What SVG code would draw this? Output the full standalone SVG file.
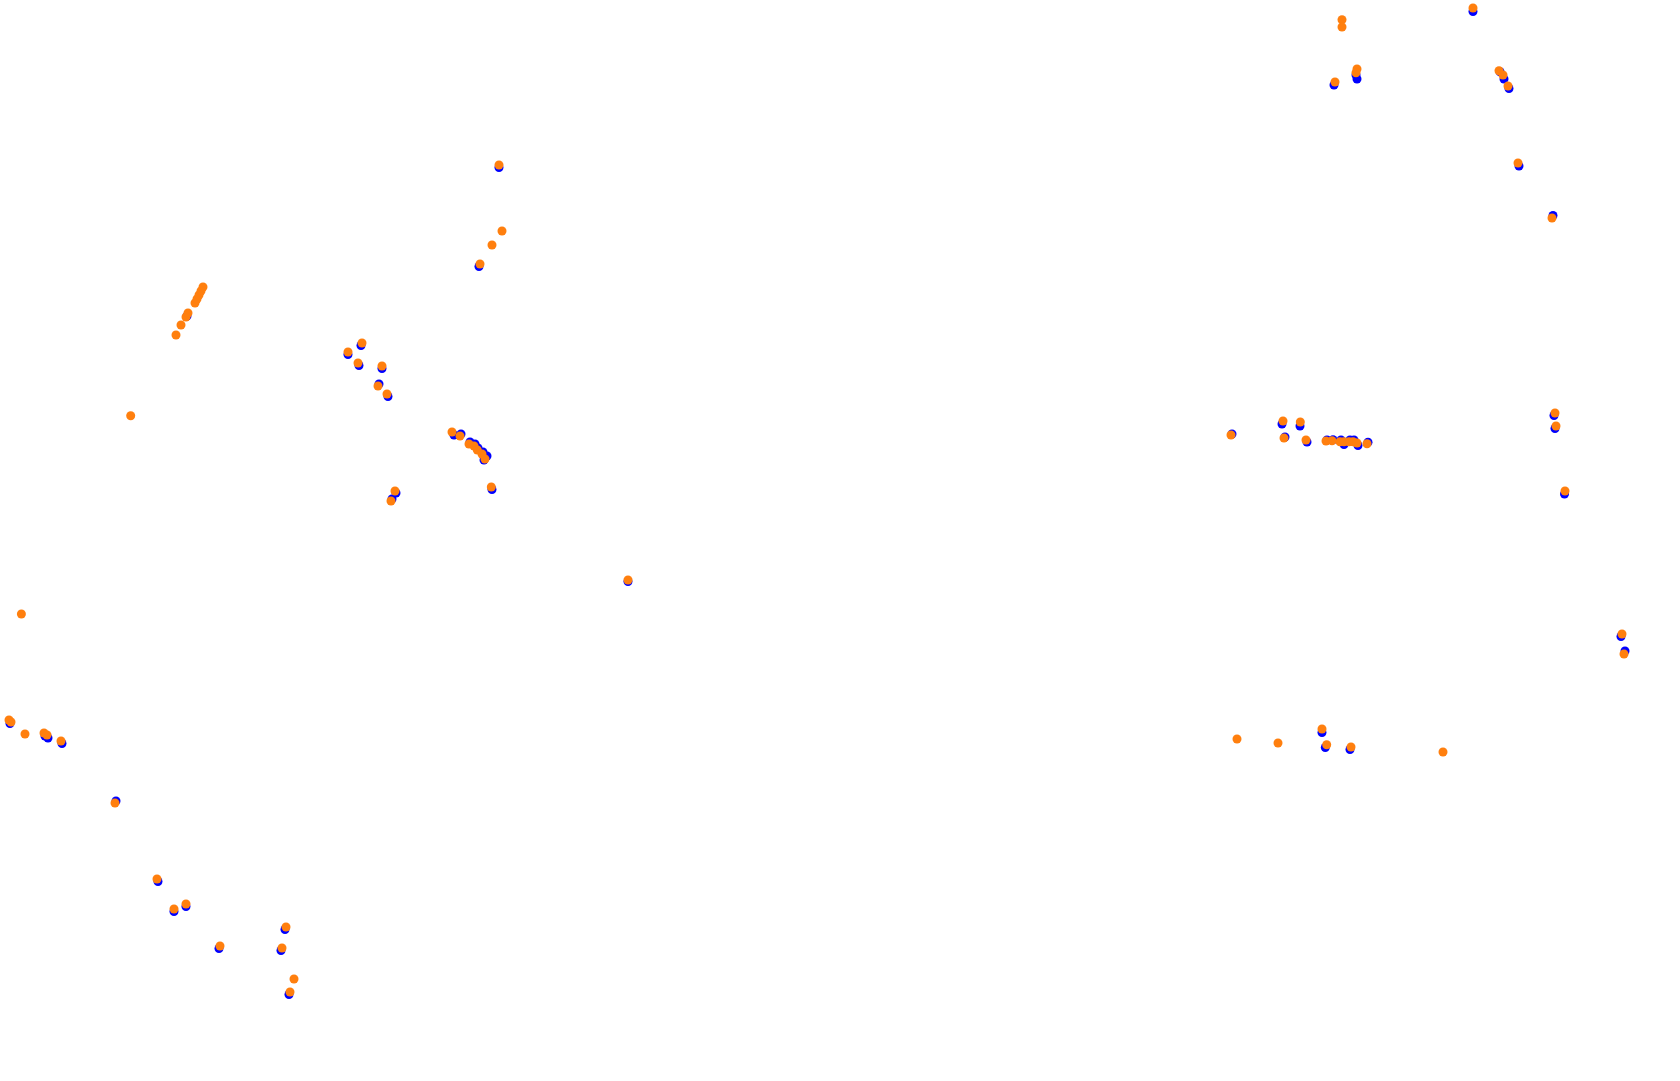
<svg xmlns="http://www.w3.org/2000/svg" width="1680" height="1081" viewBox="0 0 1680 1081">
<style>.b{fill:#0000ff}.o{fill:#ff7f0e}</style>
<defs><circle id="b" class="b" r="4.5"/><circle id="o" class="o" r="4.5"/></defs>
<rect width="1680" height="1081" fill="#fff"/>
<g id="blue-points">
<use href="#b" x="1334" y="85"/><use href="#b" x="1356" y="75"/><use href="#b" x="1357" y="79"/><use href="#b" x="1473" y="11.5"/><use href="#b" x="1500" y="71.7"/><use href="#b" x="1504" y="79"/><use href="#b" x="1509" y="88.5"/>
<use href="#b" x="1232" y="434"/><use href="#b" x="1282" y="424"/><use href="#b" x="1300" y="426"/><use href="#b" x="1285" y="437"/><use href="#b" x="1307" y="442"/><use href="#b" x="1327" y="440"/><use href="#b" x="1333" y="439.7"/><use href="#b" x="1341" y="440"/><use href="#b" x="1344" y="444.5"/><use href="#b" x="1350" y="440"/><use href="#b" x="1354" y="440"/><use href="#b" x="1358" y="445.5"/><use href="#b" x="1368" y="442.3"/>
<use href="#b" x="361" y="345.5"/><use href="#b" x="348" y="354.5"/><use href="#b" x="359" y="365.5"/><use href="#b" x="382" y="368.5"/><use href="#b" x="379" y="384"/><use href="#b" x="388" y="396.5"/><use href="#b" x="454" y="435"/><use href="#b" x="461" y="434"/><use href="#b" x="470" y="442"/><use href="#b" x="475" y="444"/><use href="#b" x="478" y="448"/><use href="#b" x="483" y="452"/><use href="#b" x="487" y="456"/><use href="#b" x="484" y="460"/><use href="#b" x="492" y="489.5"/><use href="#b" x="396" y="493"/><use href="#b" x="392" y="499"/>
<use href="#b" x="187" y="316"/><use href="#b" x="628" y="581.5"/>
<use href="#b" x="10" y="723.5"/><use href="#b" x="45" y="736"/><use href="#b" x="48" y="738"/><use href="#b" x="62" y="743.5"/><use href="#b" x="116" y="801"/>
<use href="#b" x="158" y="881.5"/><use href="#b" x="174" y="911.5"/><use href="#b" x="186" y="906.5"/><use href="#b" x="219" y="948.5"/><use href="#b" x="285" y="929.5"/><use href="#b" x="281" y="950.5"/><use href="#b" x="289" y="994.5"/>
<use href="#b" x="1322" y="732.5"/><use href="#b" x="1325.3" y="747.5"/><use href="#b" x="1350" y="749.5"/>
<use href="#b" x="1553" y="215.5"/><use href="#b" x="1554" y="415.5"/><use href="#b" x="1555" y="428.5"/><use href="#b" x="1564.5" y="494"/><use href="#b" x="1621" y="636.5"/><use href="#b" x="1625" y="651"/>
<use href="#b" x="499" y="167.5"/><use href="#b" x="479" y="266.5"/><use href="#b" x="1519" y="166"/>
</g>
<g id="orange-points">
<use href="#o" x="1342" y="19.7"/><use href="#o" x="1342" y="27"/><use href="#o" x="1335" y="82"/><use href="#o" x="1357" y="69"/><use href="#o" x="1356" y="72.7"/><use href="#o" x="1473" y="8"/><use href="#o" x="1499" y="70.7"/><use href="#o" x="1503" y="75"/><use href="#o" x="1508" y="86"/>
<use href="#o" x="1231" y="435"/><use href="#o" x="1283" y="421"/><use href="#o" x="1300.3" y="422"/><use href="#o" x="1284" y="438"/><use href="#o" x="1306" y="440"/><use href="#o" x="1326" y="441"/><use href="#o" x="1332" y="440.7"/><use href="#o" x="1340" y="441.7"/><use href="#o" x="1344" y="441.7"/><use href="#o" x="1349" y="441.7"/><use href="#o" x="1353" y="441.7"/><use href="#o" x="1357" y="443"/><use href="#o" x="1367" y="443.7"/>
<use href="#o" x="362" y="343"/><use href="#o" x="348" y="352"/><use href="#o" x="358" y="363"/><use href="#o" x="382" y="366"/><use href="#o" x="378" y="386"/><use href="#o" x="387" y="394"/><use href="#o" x="452" y="432"/><use href="#o" x="460" y="436"/><use href="#o" x="469" y="444"/><use href="#o" x="474" y="446"/><use href="#o" x="477.3" y="450"/><use href="#o" x="482" y="454"/><use href="#o" x="485" y="459"/><use href="#o" x="491.3" y="487"/><use href="#o" x="395" y="491"/><use href="#o" x="391" y="501"/>
<use href="#o" x="176" y="335"/><use href="#o" x="181" y="325"/><use href="#o" x="186" y="317"/><use href="#o" x="188" y="313"/><use href="#o" x="195" y="303"/><use href="#o" x="197" y="299"/><use href="#o" x="199" y="295"/><use href="#o" x="201" y="291"/><use href="#o" x="203" y="287"/>
<use href="#o" x="130.7" y="415.7"/><use href="#o" x="21.4" y="614"/><use href="#o" x="628" y="580"/>
<use href="#o" x="9" y="720"/><use href="#o" x="11" y="722"/><use href="#o" x="25" y="734"/><use href="#o" x="44" y="733"/><use href="#o" x="47" y="735"/><use href="#o" x="61" y="741"/><use href="#o" x="115" y="803"/>
<use href="#o" x="157" y="879"/><use href="#o" x="174" y="909"/><use href="#o" x="186" y="904"/><use href="#o" x="220" y="946"/><use href="#o" x="286" y="927"/><use href="#o" x="282" y="948"/><use href="#o" x="294" y="979"/><use href="#o" x="290" y="992"/>
<use href="#o" x="1237" y="739"/><use href="#o" x="1278" y="743"/><use href="#o" x="1322" y="729"/><use href="#o" x="1326.7" y="744.7"/><use href="#o" x="1351" y="747"/><use href="#o" x="1443" y="752"/>
<use href="#o" x="1552" y="218"/><use href="#o" x="1555" y="413"/><use href="#o" x="1556" y="426"/><use href="#o" x="1565" y="491"/><use href="#o" x="1622" y="634"/><use href="#o" x="1624" y="654"/>
<use href="#o" x="499" y="165"/><use href="#o" x="502" y="231"/><use href="#o" x="492" y="245"/><use href="#o" x="480" y="264"/><use href="#o" x="1518" y="163"/>
</g>
</svg>
